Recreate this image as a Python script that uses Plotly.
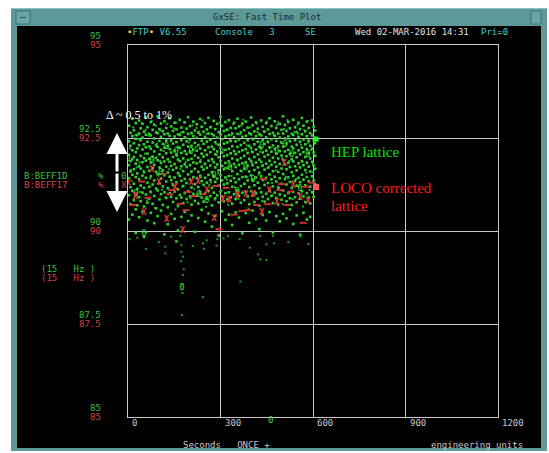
import plotly.graph_objects as go

# ---------------- data ----------------
x_ticks = [0, 300, 600, 900, 1200]
x_tick_labels = ["0", "300", "600", "900", "1200"]
y_ticks = [85, 87.5, 90, 92.5, 95]
y_tick_labels = ["85", "87.5", "90", "92.5", "95"]

# green (B:BEFF1D) dense samples: time column -> values
green_cols_t = [3, 8, 14, 19, 25, 30, 36, 41, 47, 52, 58, 63, 69, 74, 80, 85, 91, 96, 102, 107,
                113, 118, 124, 129, 135, 140, 146, 151, 157, 162, 168, 173, 179, 184, 190, 195,
                201, 206, 212, 217, 223, 228, 234, 239, 245, 250, 256, 261, 267, 272, 278, 283,
                289, 294, 300, 305, 311, 316, 322, 327, 333, 338, 344, 349, 355, 360, 366, 371,
                377, 382, 388, 393, 399, 404, 410, 415, 421, 426, 432, 437, 443, 448, 454, 459,
                465, 470, 476, 481, 487, 492, 498, 503, 509, 514, 520, 525, 531, 536, 542, 547,
                553, 558, 564, 569, 575, 580, 586, 591, 597, 602, 607]
green_cols_v = [
    [92.83, 92.41, 92.05, 91.77, 91.42, 90.96, 90.31],
    [92.64, 92.29, 91.88, 91.60, 91.18, 90.72],
    [93.02, 92.55, 92.17, 91.93, 91.51, 91.08, 90.44],
    [92.71, 92.36, 91.99, 91.66, 91.27, 90.83],
    [92.90, 92.48, 92.12, 91.81, 91.45, 90.58, 89.95],
    [92.58, 92.22, 91.91, 91.55, 91.13, 90.69],
    [92.97, 92.62, 92.31, 91.74, 91.39, 90.91, 90.37],
    [92.76, 92.44, 92.02, 91.68, 91.22, 90.80],
    [92.88, 92.51, 92.19, 91.85, 91.49, 91.03, 90.52],
    [92.67, 92.33, 91.96, 91.58, 91.16, 90.66, 89.84],
    [93.05, 92.59, 92.25, 91.89, 91.43, 90.98],
    [92.79, 92.40, 92.08, 91.72, 91.30, 90.76, 90.28],
    [92.61, 92.27, 91.94, 91.62, 91.19, 90.87],
    [92.93, 92.57, 92.21, 91.84, 91.47, 91.05, 90.49],
    [92.72, 92.38, 92.00, 91.69, 91.25, 90.73],
    [92.86, 92.49, 92.14, 91.78, 91.36, 90.94, 90.21],
    [92.65, 92.30, 91.97, 91.59, 91.14, 90.61],
    [93.08, 92.63, 92.26, 91.90, 91.53, 91.09, 90.40],
    [92.74, 92.42, 92.06, 91.71, 91.28, 90.85],
    [92.89, 92.53, 92.18, 91.83, 91.41, 90.99, 90.55],
    [92.68, 92.34, 91.98, 91.63, 91.20, 90.70],
    [92.95, 92.60, 92.24, 91.87, 91.50, 91.04, 89.91],
    [92.77, 92.43, 92.09, 91.73, 91.33, 90.89],
    [92.62, 92.28, 91.93, 91.57, 91.15, 90.64, 90.18],
    [93.03, 92.56, 92.20, 91.86, 91.46, 91.01],
    [92.81, 92.45, 92.11, 91.75, 91.37, 90.92, 90.46],
    [92.69, 92.35, 91.99, 91.64, 91.23, 90.78],
    [92.91, 92.54, 92.16, 91.80, 91.44, 91.06, 90.33],
    [92.73, 92.39, 92.04, 91.70, 91.31, 90.88, 89.72],
    [92.60, 92.26, 91.92, 91.56, 91.12, 90.67, 90.02],
    [92.99, 92.58, 92.23, 91.88, 91.48, 90.97],
    [92.78, 92.44, 92.10, 91.74, 91.35, 90.90, 90.38],
    [92.66, 92.32, 91.95, 91.61, 91.21, 90.75],
    [92.92, 92.52, 92.15, 91.79, 91.40, 91.02, 90.51],
    [92.75, 92.41, 92.07, 91.72, 91.29, 90.86],
    [93.06, 92.61, 92.27, 91.91, 91.52, 91.07, 90.27],
    [92.82, 92.46, 92.13, 91.77, 91.38, 90.93],
    [92.63, 92.29, 91.94, 91.60, 91.17, 90.71, 90.42],
    [92.94, 92.55, 92.19, 91.84, 91.45, 91.00],
    [92.70, 92.37, 92.03, 91.67, 91.26, 90.81, 89.98],
    [92.87, 92.50, 92.16, 91.82, 91.42, 90.95],
    [92.64, 92.31, 91.97, 91.59, 91.18, 90.74, 90.35],
    [93.01, 92.59, 92.22, 91.86, 91.49, 91.05],
    [92.80, 92.43, 92.08, 91.73, 91.34, 90.90, 90.57],
    [92.67, 92.34, 92.00, 91.65, 91.24, 90.79],
    [92.90, 92.53, 92.17, 91.81, 91.43, 91.01, 90.25],
    [92.73, 92.40, 92.05, 91.70, 91.30, 90.87],
    [93.04, 92.62, 92.25, 91.89, 91.51, 91.08, 90.47],
    [92.79, 92.45, 92.12, 91.76, 91.37, 90.94],
    [92.61, 92.27, 91.93, 91.58, 91.16, 90.69, 90.12],
    [92.96, 92.57, 92.20, 91.85, 91.47, 91.03],
    [92.74, 92.39, 92.06, 91.71, 91.32, 90.88, 90.41],
    [92.88, 92.51, 92.14, 91.79, 91.41, 90.96],
    [92.66, 92.32, 91.98, 91.63, 91.22, 90.77, 89.88],
    [93.07, 92.60, 92.24, 91.88, 91.50, 91.06],
    [92.83, 92.47, 92.11, 91.75, 91.36, 90.92, 90.53],
    [92.69, 92.35, 92.01, 91.66, 91.25, 90.80],
    [92.93, 92.54, 92.18, 91.83, 91.44, 91.02, 90.30],
    [92.72, 92.38, 92.04, 91.69, 91.28, 90.85],
    [92.98, 92.58, 92.21, 91.87, 91.48, 91.04, 90.44],
    [92.77, 92.42, 92.09, 91.74, 91.35, 90.91],
    [92.62, 92.28, 91.95, 91.61, 91.19, 90.73, 90.16],
    [92.91, 92.52, 92.15, 91.80, 91.42, 90.99],
    [92.76, 92.41, 92.07, 91.72, 91.31, 90.86, 90.50],
    [93.02, 92.61, 92.26, 91.90, 91.53, 91.09],
    [92.81, 92.46, 92.13, 91.78, 91.39, 90.95, 90.36],
    [92.65, 92.31, 91.96, 91.62, 91.21, 90.76],
    [92.89, 92.53, 92.17, 91.82, 91.45, 91.03, 89.94],
    [92.71, 92.37, 92.02, 91.68, 91.27, 90.83],
    [92.94, 92.56, 92.20, 91.85, 91.46, 91.05, 90.48],
    [92.78, 92.44, 92.10, 91.75, 91.36, 90.93],
    [92.63, 92.29, 91.94, 91.60, 91.18, 90.72, 90.22],
    [93.05, 92.60, 92.23, 91.88, 91.50, 91.07],
    [92.84, 92.48, 92.12, 91.77, 91.38, 90.96, 90.55],
    [92.68, 92.33, 91.99, 91.64, 91.23, 90.78],
    [92.92, 92.55, 92.19, 91.84, 91.44, 91.01, 90.32],
    [92.75, 92.40, 92.06, 91.71, 91.30, 90.87],
    [92.60, 92.26, 91.92, 91.57, 91.15, 90.68, 90.05],
    [92.97, 92.57, 92.22, 91.86, 91.47, 91.04],
    [92.80, 92.45, 92.11, 91.76, 91.37, 90.92, 90.43],
    [92.67, 92.34, 92.00, 91.65, 91.24, 90.79],
    [92.90, 92.52, 92.16, 91.81, 91.43, 91.00, 90.28],
    [92.73, 92.39, 92.05, 91.70, 91.29, 90.86],
    [93.03, 92.61, 92.25, 91.89, 91.52, 91.08, 90.51],
    [92.82, 92.47, 92.13, 91.78, 91.39, 90.94],
    [92.64, 92.30, 91.97, 91.61, 91.20, 90.75, 89.96],
    [92.95, 92.56, 92.21, 91.85, 91.46, 91.03],
    [92.77, 92.42, 92.08, 91.73, 91.33, 90.89, 90.40],
    [92.62, 92.28, 91.95, 91.59, 91.17, 90.71],
    [92.88, 92.51, 92.15, 91.80, 91.42, 90.98, 90.26],
    [92.72, 92.37, 92.03, 91.68, 91.27, 90.84],
    [93.08, 92.62, 92.27, 91.91, 91.53, 91.09, 90.46],
    [92.85, 92.49, 92.14, 91.79, 91.40, 90.95],
    [92.69, 92.35, 92.01, 91.66, 91.25, 90.80, 90.34],
    [92.93, 92.54, 92.18, 91.83, 91.44, 91.02],
    [92.76, 92.41, 92.07, 91.72, 91.32, 90.88, 90.58],
    [92.61, 92.27, 91.93, 91.58, 91.16, 90.70],
    [92.99, 92.58, 92.22, 91.87, 91.48, 91.05, 90.19],
    [92.79, 92.44, 92.10, 91.74, 91.35, 90.91],
    [92.66, 92.32, 91.98, 91.63, 91.22, 90.77, 90.42],
    [92.91, 92.53, 92.17, 91.82, 91.43, 91.01],
    [92.74, 92.40, 92.06, 91.71, 91.31, 90.87, 89.90],
    [93.04, 92.60, 92.24, 91.88, 91.51, 91.07],
    [92.83, 92.46, 92.12, 91.77, 91.38, 90.93, 90.49],
    [92.68, 92.33, 91.99, 91.64, 91.23, 90.78],
    [92.94, 92.55, 92.20, 91.84, 91.45, 91.02, 90.31],
    [92.77, 92.43, 92.09, 91.73, 91.34, 90.90],
    [92.63, 92.29, 91.95, 91.60, 91.19, 90.74, 90.38],
    [92.97, 92.57, 92.21, 91.86, 91.47, 91.04],
    [92.81, 92.45, 92.11, 91.76, 91.36, 90.92],
    [92.70, 92.36, 92.02, 91.67, 91.26],
]

# additional scattered green samples between the columns
green_extra_t = [6, 11, 17, 22, 28, 33, 39, 44, 50, 55, 61, 66, 72, 77, 83, 88, 94, 99, 105, 110,
                 116, 121, 127, 132, 138, 143, 149, 154, 160, 165, 171, 176, 182, 187, 193, 198,
                 204, 209, 215, 220, 226, 231, 237, 242, 248, 253, 259, 264, 270, 275, 281, 286,
                 292, 297, 303, 308, 314, 319, 325, 330, 336, 341, 347, 352, 358, 363, 369, 374,
                 380, 385, 391, 396, 402, 407, 413, 418, 424, 429, 435, 440, 446, 451, 457, 462,
                 468, 473, 479, 484, 490, 495, 501, 506, 512, 517, 523, 528, 534, 539, 545, 550,
                 556, 561, 567, 572, 578, 583, 589, 594, 600, 605,
                 9, 24, 38, 57, 71, 90, 104, 123, 137, 156, 170, 189, 203, 222, 236, 255, 269, 288,
                 302, 321, 335, 354, 368, 387, 401, 420, 434, 453, 467, 486, 500, 519, 533, 552,
                 566, 585, 599]
green_extra_v = [92.22, 91.35, 92.79, 90.95, 91.71, 92.47, 91.05, 92.90, 91.62, 92.08,
                 90.82, 92.56, 91.41, 92.95, 91.90, 90.62, 92.35, 91.49, 92.70, 91.11,
                 92.15, 90.90, 92.88, 91.66, 92.41, 91.28, 92.76, 90.58, 92.02, 91.53,
                 92.64, 91.19, 92.93, 91.85, 90.77, 92.38, 91.58, 92.84, 91.12, 92.26,
                 90.98, 92.67, 91.44, 92.97, 91.79, 90.65, 92.49, 91.24, 92.80, 91.92,
                 90.84, 92.34, 91.55, 92.91, 91.09, 92.19, 91.70, 92.73, 90.70, 92.44,
                 91.48, 92.87, 91.17, 92.06, 90.87, 92.60, 91.60, 92.99, 91.26, 92.30,
                 90.60, 92.78, 91.83, 92.45, 91.06, 92.89, 91.52, 92.13, 90.81, 92.69,
                 91.38, 92.94, 91.73, 92.24, 90.97, 92.58, 91.63, 92.85, 91.15, 92.40,
                 90.73, 92.74, 91.46, 92.98, 91.88, 92.10, 90.86, 92.66, 91.40, 92.86,
                 91.21, 92.32, 90.66, 92.71, 91.57, 92.96, 91.10, 92.18, 91.81, 92.52,
                 91.64, 92.58, 91.84, 92.72, 91.06, 92.83, 91.88, 92.46, 91.02, 92.91,
                 91.67, 92.50, 90.88, 92.77, 91.91, 92.61, 91.31, 92.05, 92.79, 91.38,
                 92.57, 91.93, 92.84, 91.45, 92.15, 92.66, 91.76, 92.42, 91.29, 92.92,
                 91.95, 92.47, 91.33, 92.62, 91.86, 92.37, 91.58]

# sparse low green samples
green_low_t = [5, 30, 59, 121, 121, 170, 173, 173, 178, 172, 181, 178, 176, 177, 243, 175, 243, 246,
               290, 287, 324, 362, 429, 449, 422, 429, 449, 470, 474, 364, 60, 100, 140, 210, 255,
               310, 395, 520, 560, 585]
green_low_v = [89.78, 89.82, 89.52, 89.58, 89.40, 89.87, 89.62, 89.44, 89.31, 89.19, 88.97, 88.82,
               88.57, 88.33, 88.22, 87.74, 89.67, 89.52, 89.78, 89.61, 89.87, 89.78, 89.87, 89.64,
               89.37, 89.24, 89.22, 89.87, 89.67, 88.64, 89.95, 89.70, 89.85, 89.60, 89.75,
               89.80, 89.55, 89.70, 89.85, 89.65]

# green channel "0" markers
green_mark_t = [0, 26, 52, 78, 106, 125, 156, 175, 204, 229, 255, 279, 331, 354, 382, 405, 434,
                482, 509, 531, 558, 584]
green_mark_v = [91.94, 90.99, 89.92, 91.89, 91.56, 92.27, 92.12, 88.47, 92.12, 90.98, 90.81, 91.48,
                91.69, 91.05, 91.70, 91.37, 92.28, 92.12, 92.31, 92.04, 91.13, 92.06]

# red (B:BEFF17) "X" markers
red_mark_t = [0, 23, 52, 77, 100, 125, 152, 177, 204, 227, 255, 279, 307, 328, 354, 382, 405,
              434, 457, 482, 506, 535, 558, 584]
red_mark_v = [91.31, 90.91, 90.49, 91.64, 91.30, 90.30, 91.16, 90.00, 91.30, 91.33, 91.08, 90.32,
              90.83, 90.81, 90.94, 90.97, 90.97, 90.49, 91.07, 90.77, 91.80, 91.22, 90.90, 90.79]

# red dash samples
red_dash_t = [16, 44, 65, 113, 136, 142, 169, 188, 195, 214, 243, 285, 295, 318, 344, 369, 389,
              417, 438, 453, 493, 498, 515, 528, 568, 576, 596]
red_dash_v = [90.70, 91.33, 90.89, 91.53, 90.99, 91.10, 90.73, 90.56, 91.05, 90.94, 90.99, 91.21,
              90.05, 91.16, 90.44, 90.54, 90.56, 90.70, 91.40, 90.72, 91.10, 91.26, 90.70, 91.06,
              90.22, 91.19, 91.30]

# current values (end markers)
green_last = (610, 92.47)
red_last = (610, 91.18)

# ---------------- figure ----------------
W, H = 549, 453
L, R, T, B = 128, 498, 45, 417


def px(x):
    return (x - L) / (R - L)


def py(y):
    return (B - y) / (B - T)


GREEN = "#2fd02f"
GREEN_DIM = "#1c9a1c"
RED = "#e03c3c"
GRID = "#c8c8c8"
MONO = "DejaVu Sans Mono"

gx, gy = [], []
for t, vals in zip(green_cols_t, green_cols_v):
    for v in vals:
        gx.append(t)
        gy.append(v)

fig = go.Figure()
fig.add_trace(go.Scatter(x=green_extra_t, y=green_extra_v, mode="markers", hoverinfo="skip",
                         marker=dict(symbol="square", size=2, color="#1fae1f", line=dict(width=0))))
fig.add_trace(go.Scatter(x=gx, y=gy, mode="markers", hoverinfo="skip",
                         marker=dict(symbol="square", size=2.6, color=GREEN, line=dict(width=0))))
fig.add_trace(go.Scatter(x=green_low_t, y=green_low_v, mode="markers", hoverinfo="skip",
                         marker=dict(symbol="square", size=2, color=GREEN_DIM, line=dict(width=0))))
fig.add_trace(go.Scatter(x=red_dash_t, y=red_dash_v, mode="markers", hoverinfo="skip",
                         marker=dict(symbol="line-ew", size=5, line=dict(width=2, color="#c83030"))))
fig.add_trace(go.Scatter(x=green_mark_t, y=green_mark_v, mode="text", text=["0"] * len(green_mark_t),
                         hoverinfo="skip", textfont=dict(family=MONO, size=9, color="#36d836")))
fig.add_trace(go.Scatter(x=red_mark_t, y=red_mark_v, mode="text", text=["<b>X</b>"] * len(red_mark_t),
                         hoverinfo="skip", textfont=dict(family=MONO, size=9, color=RED)))
fig.add_trace(go.Scatter(x=[green_last[0]], y=[green_last[1]], mode="markers", hoverinfo="skip",
                         marker=dict(symbol="square", size=5, color="#30f030", line=dict(width=0))))
fig.add_trace(go.Scatter(x=[red_last[0]], y=[red_last[1]], mode="markers", hoverinfo="skip",
                         marker=dict(symbol="square", size=6, color="#ff5a5a", line=dict(width=0))))

annotations = []


def label(x, y, text, color, size=9, family=MONO, anchor="left"):
    annotations.append(dict(x=px(x), y=py(y), xref="paper", yref="paper", text=text,
                            showarrow=False, xanchor=anchor, yanchor="middle",
                            font=dict(family=family, size=size, color=color)))


# y tick labels (green above, red on the grid line)
for v, s in zip(y_ticks, y_tick_labels):
    ypix = B - (v - 85) / 10 * (B - T)
    label(103, ypix - 9, s, "#3cc03c", anchor="right")
    label(103, ypix, s, "#d84040", anchor="right")

# x tick labels
for v, s in zip(x_ticks, x_tick_labels):
    annotations.append(dict(x=v, y=py(423), xref="x", yref="paper", text=s, showarrow=False,
                            xanchor="left", yanchor="middle", xshift=2,
                            font=dict(family=MONO, size=9, color=GRID)))

# legend / channel text
label(22, 176, "B:BEFF1D", "#3cc03c")
label(96, 176, "%", "#3cc03c")
label(119, 176, "0", "#3cc03c")
label(22, 185, "B:BEFF17", "#d84040")
label(96, 185, "%", "#d84040")
label(119, 185, "X", "#d84040")
label(39, 269, "(15   Hz )", "#3cc03c")
label(39, 278, "(15   Hz )", "#d84040")

# header
label(125, 32, "<span style='color:#f0e040'>\u2022</span>FTP<span style='color:#f0e040'>\u2022</span> V6.55", "#40d0d0")
label(213, 32, "Console   3", "#40d0d0")
label(303, 32, "SE", "#40d0d0")
label(353, 32, "Wed 02-MAR-2016 14:31", "#e0e0e0")
label(479, 32, "Pri=0", "#40d0d0")

# title bar
annotations.append(dict(x=px(267), y=py(17), xref="paper", yref="paper", text="GxSE: Fast Time Plot",
                        showarrow=False, xanchor="center", yanchor="middle",
                        font=dict(family=MONO, size=9, color="#1a2a2a")))

# footer
label(181, 445, "Seconds   ONCE +", GRID)
label(429, 445, "engineering units", GRID)
label(266, 420, "0", "#36d836")

# annotations in serif
label(104, 115, "\u0394 ~ 0.5 to 1%", "#ffffff", size=12, family="Liberation Serif")
label(329, 152, "HEP lattice", "#00e000", size=15, family="Liberation Serif")
label(329, 188, "LOCO corrected", "#ff1a1a", size=15, family="Liberation Serif")
label(329, 206, "lattice", "#ff1a1a", size=15, family="Liberation Serif")

# double arrow
annotations.append(dict(x=px(117), y=py(133), xref="paper", yref="paper", ax=0, ay=40,
                        showarrow=True, arrowhead=2, arrowsize=1.4, arrowwidth=3,
                        arrowcolor="#ffffff", text=""))
annotations.append(dict(x=px(117), y=py(212), xref="paper", yref="paper", ax=0, ay=-40,
                        showarrow=True, arrowhead=2, arrowsize=1.4, arrowwidth=3,
                        arrowcolor="#ffffff", text=""))

TEAL = "#5c9999"
shapes = []


def rect(x0, y0, x1, y1, color, line=None):
    shapes.append(dict(type="rect", xref="paper", yref="paper", x0=px(x0), x1=px(x1),
                       y0=py(y1), y1=py(y0), fillcolor=color, layer="above",
                       line=dict(width=0) if line is None else line))


# window frame
rect(0, 0, 11, H, "#ffffff")
rect(0, 0, W, 8, "#ffffff")
rect(547, 0, W, H, "#ffffff")
rect(0, 451, W, H, "#ffffff")
rect(11, 8, 17, 451, TEAL)
rect(11, 8, 547, 26, TEAL)
rect(541, 8, 547, 451, TEAL)
rect(11, 448, 547, 451, TEAL)
rect(11, 8, 547, 9, "#8fc4c4")
rect(16, 11, 30, 24, "#6aa8a8", line=dict(width=1, color="#3f7070"))
rect(20, 17, 26, 18, "#2f5050")
rect(531, 11, 541, 24, "#6aa8a8", line=dict(width=1, color="#3f7070"))

fig.update_layout(
    width=W, height=H,
    margin=dict(l=L, r=W - R, t=T, b=H - B),
    paper_bgcolor="#000000", plot_bgcolor="#000000",
    showlegend=False,
    xaxis=dict(range=[0, 1200], tickvals=x_ticks, showticklabels=False, ticks="",
               showgrid=True, gridcolor=GRID, gridwidth=1, zeroline=False,
               showline=True, linecolor=GRID, linewidth=1, mirror=True, fixedrange=True),
    yaxis=dict(range=[85, 95], tickvals=y_ticks, showticklabels=False, ticks="",
               showgrid=True, gridcolor=GRID, gridwidth=1, zeroline=False,
               showline=True, linecolor=GRID, linewidth=1, mirror=True, fixedrange=True),
    annotations=annotations,
    shapes=shapes,
)

fig.write_html("out.html", config={"displayModeBar": False})
